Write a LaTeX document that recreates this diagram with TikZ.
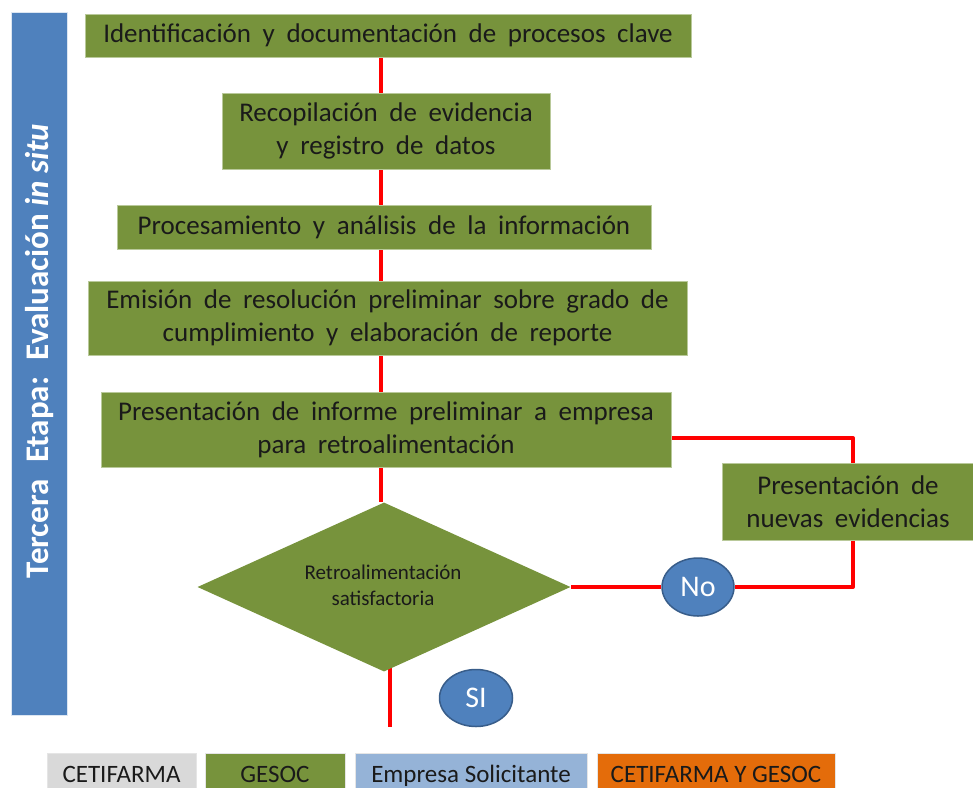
\documentclass[tikz,border=0pt]{standalone}
\usepackage{fontspec}
\setmainfont{Carlito}
\usetikzlibrary{shapes.geometric,backgrounds}
\definecolor{olivefill}{HTML}{77933C}
\definecolor{olivebord}{HTML}{B9C99A}
\definecolor{barblue}{HTML}{4F81BD}
\definecolor{ellbord}{HTML}{385D8A}
\definecolor{leggray}{HTML}{D9D9D9}
\definecolor{legblue}{HTML}{95B3D7}
\definecolor{legorange}{HTML}{E46C0A}
\definecolor{txtdark}{HTML}{1A1A1A}
\newcommand\procfont{\fontsize{27}{33}\selectfont\spaceskip=0.43em plus 0.1em minus 0.1em\relax}
\tikzset{
  procbox/.style={fill=olivefill, draw=olivebord, line width=0.6pt, inner sep=0pt,
    align=center, text=txtdark, font=\procfont},
  conn/.style={draw=red, line width=4pt, line join=round},
  answer/.style={ellipse, fill=barblue, draw=ellbord, line width=1.5pt, inner sep=0pt,
    text=white, font=\fontsize{30}{32}\selectfont},
  legbox/.style={inner sep=0pt, minimum height=46pt, draw=white!90!black, line width=0.5pt},
  legtext/.style={inner sep=0pt, text height=16pt, text depth=0pt,
    text=txtdark, font=\fontsize{25}{27}\selectfont}
}
\begin{document}
\begin{tikzpicture}[x=1pt,y=-1pt]
\useasboundingbox (0,0) rectangle (973,787);
\clip (0,0) rectangle (973,787);

% side bar
\node[fill=barblue, draw=white!80!barblue, line width=0.5pt, minimum width=56pt, minimum height=703pt, inner sep=0pt] (bar) at (39,363.5) {};
\node[rotate=90, text=white, font=\fontsize{33}{35}\selectfont\bfseries] (ttl) at (40,351)
  {Tercera\hspace{0.5em}Etapa:\hspace{0.5em}Evaluación \textit{in situ}};

% process boxes
\node[procbox, minimum width=606pt, minimum height=43pt] (b1) at (388,35.5)
  {Identificación y documentación de procesos clave};
\node[procbox, minimum width=328pt, minimum height=76pt] (b2) at (386,131)
  {Recopilación de evidencia\\y registro de datos};
\node[procbox, minimum width=534pt, minimum height=44pt] (b3) at (384,227)
  {Procesamiento y análisis de la información};
\node[procbox, minimum width=599pt, minimum height=74pt] (b4) at (387.5,318)
  {Emisión de resolución preliminar sobre grado de\\cumplimiento y elaboración de reporte};
\node[procbox, minimum width=570pt, minimum height=75pt] (b5) at (386,429.5)
  {Presentación de informe preliminar a empresa\\para retroalimentación};
\node[procbox, minimum width=252pt, minimum height=77pt] (b6) at (848,501.5)
  {Presentación de\\nuevas evidencias};

% decision
\node[diamond, fill=olivefill, inner sep=0pt, minimum width=373pt, minimum height=169pt] (d) at (384,587) {};
\node[align=center, text=txtdark, inner sep=0pt, font=\fontsize{21}{26}\selectfont] (dtxt) at (383,585)
  {Retroalimentación\\satisfactoria};

% answers
\node[answer, minimum width=72pt, minimum height=58pt] (no) at (698,587) {No};
\node[answer, minimum width=73pt, minimum height=57pt] (si) at (476,698) {SI};

% connectors
\coordinate (lx) at (381,0);
\coordinate (cx) at (853,0);
\coordinate (endpt) at (390,727);
\begin{scope}[on background layer]
\draw[conn] (b1.south -| lx) -- (b2.north -| lx);
\draw[conn] (b2.south -| lx) -- (b3.north -| lx);
\draw[conn] (b3.south -| lx) -- (b4.north -| lx);
\draw[conn] (b4.south -| lx) -- (b5.north -| lx);
\draw[conn] (b5.south -| lx) -- (d.north -| lx);
\draw[conn] ([yshift=-8.5pt]b5.east) -- ([yshift=-8.5pt]b5.east -| cx) -- (b6.north -| cx);
\draw[conn] (b6.south -| cx) |- (no.east);
\draw[conn] (no.west) -- (d.east);
\draw[conn] ([yshift=10pt]d.south -| endpt) -- (endpt);
\end{scope}

% legend
\node[legbox, fill=leggray, minimum width=149pt] (lg1) at (121.5,776) {};
\node[legbox, fill=olivefill, minimum width=140pt] (lg2) at (275,776) {};
\node[legbox, fill=legblue, minimum width=232pt] (lg3) at (471,776) {};
\node[legbox, fill=legorange, minimum width=238pt] (lg4) at (716,776) {};
\node[legtext] (lt1) at (121.5,774) {CETIFARMA};
\node[legtext] (lt2) at (275,774) {GESOC};
\node[legtext] (lt3) at (471,774) {Empresa Solicitante};
\node[legtext] (lt4) at (716,774) {CETIFARMA Y GESOC};
\end{tikzpicture}
\end{document}
